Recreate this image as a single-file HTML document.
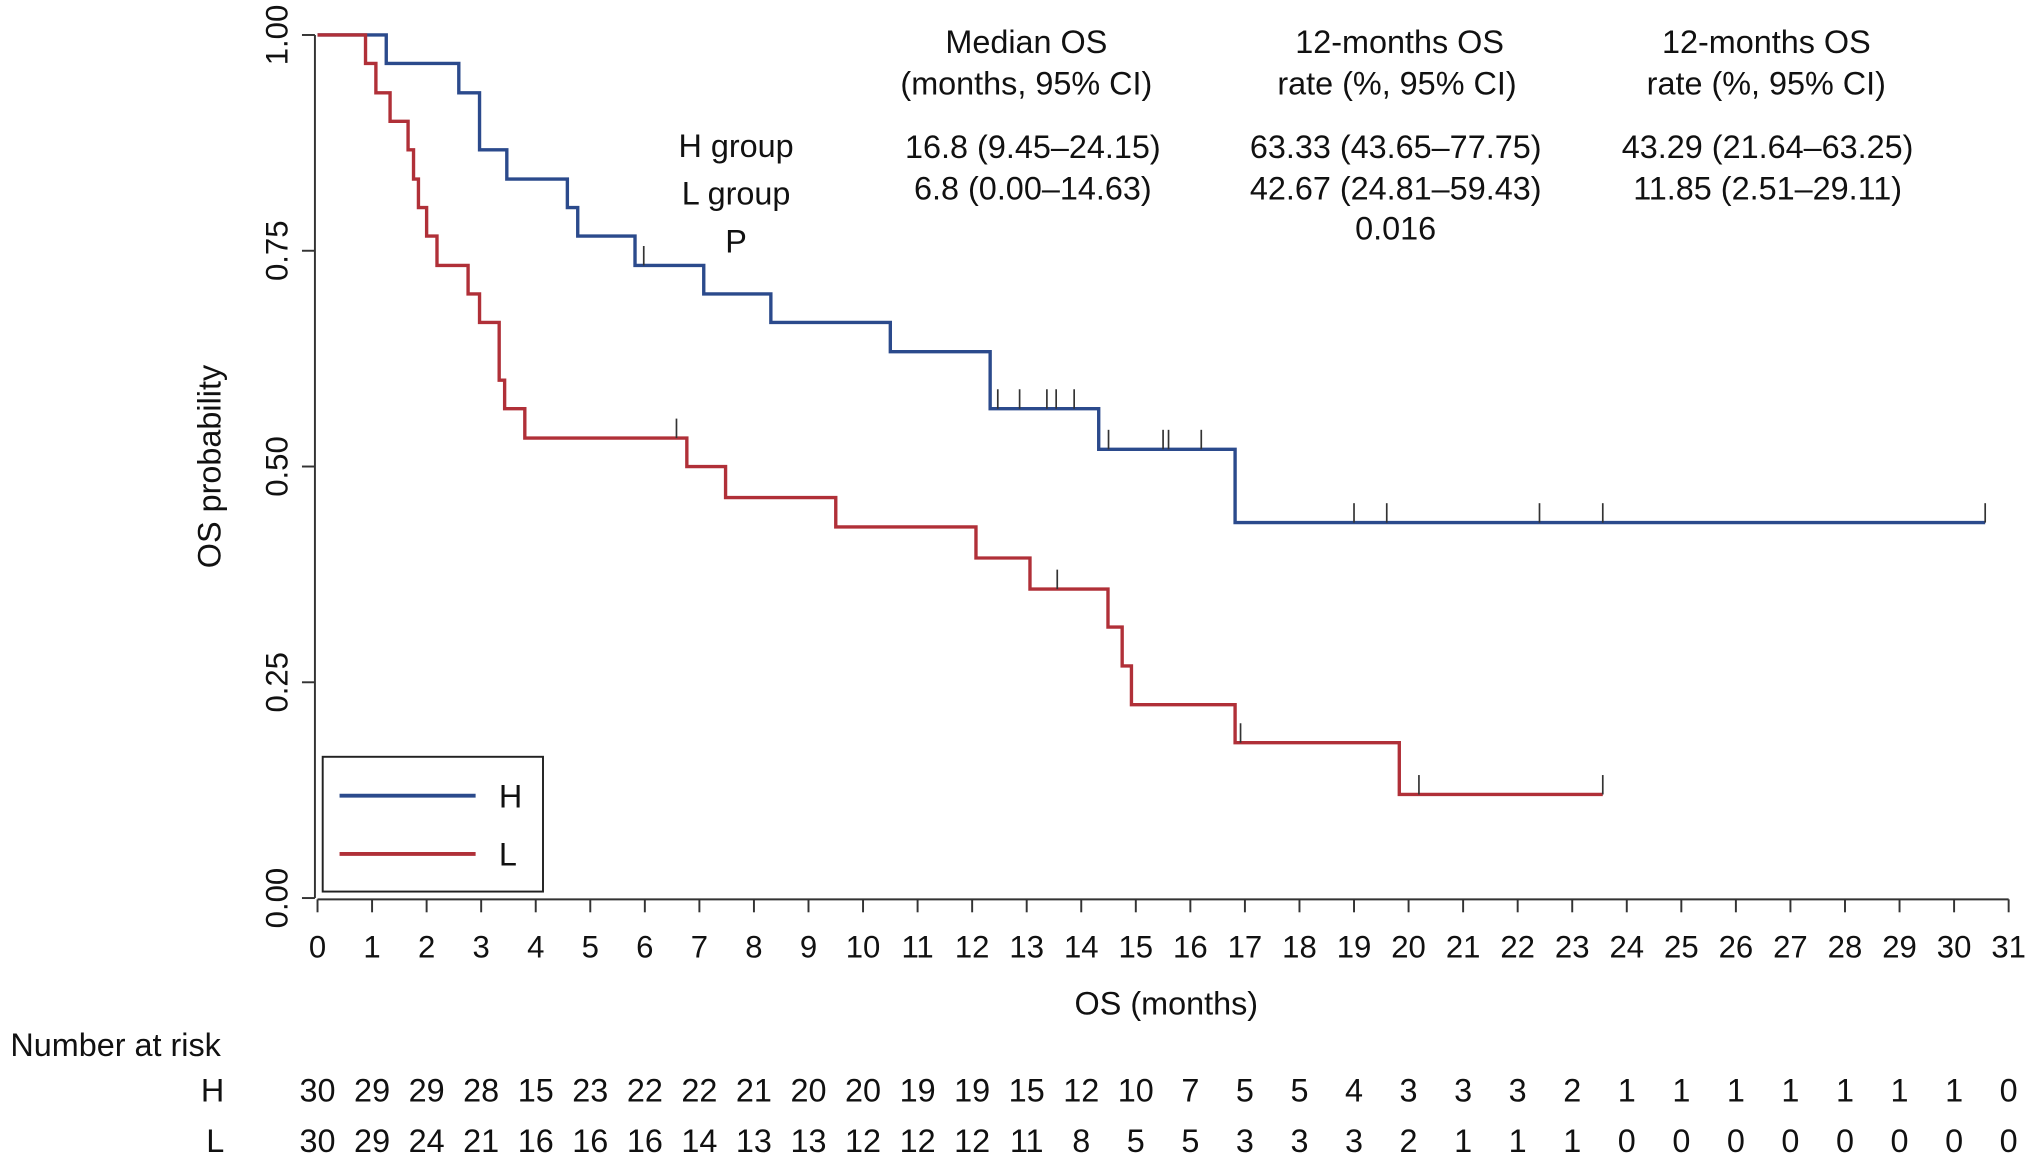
<!DOCTYPE html>
<html><head><meta charset="utf-8"><style>
html,body{margin:0;padding:0;background:#fff}
svg{display:block;font-family:"Liberation Sans",Arial,sans-serif}
</style></head><body>
<svg id="chart" width="2032" height="1165" viewBox="0 0 1568 899" xmlns="http://www.w3.org/2000/svg">
<g id="axes"></g><g id="curves"></g><g id="risk"></g>
<g font-size="25" fill="#111" text-anchor="middle">
 <text x="792" y="41">Median OS</text><text x="792" y="73">(months, 95% CI)</text>
 <text x="1080" y="41">12-months OS</text><text x="1078" y="73">rate (%, 95% CI)</text>
 <text x="1363" y="41">12-months OS</text><text x="1363" y="73">rate (%, 95% CI)</text>
 <text x="568" y="121">H group</text><text x="568" y="158">L group</text><text x="568" y="195">P</text>
 <text x="797" y="122">16.8 (9.45–24.15)</text><text x="797" y="154">6.8 (0.00–14.63)</text>
 <text x="1077" y="122">63.33 (43.65–77.75)</text><text x="1077" y="154">42.67 (24.81–59.43)</text>
 <text x="1077" y="185">0.016</text>
 <text x="1364" y="122">43.29 (21.64–63.25)</text><text x="1364" y="154">11.85 (2.51–29.11)</text>
</g>
<g>
 <rect x="249" y="584" width="170" height="104" fill="#fff" stroke="#222" stroke-width="1.5"/>
 <line x1="262" y1="614" x2="367" y2="614" stroke="#2b4a8c" stroke-width="3"/>
 <text x="385" y="623" font-size="25" fill="#111">H</text>
 <line x1="262" y1="659" x2="367" y2="659" stroke="#b03038" stroke-width="3"/>
 <text x="385" y="668" font-size="25" fill="#111">L</text>
</g>
</svg>
<script>
const hTimes=[0,1.26,2.59,2.97,3.47,4.58,4.77,5.82,7.08,8.31,10.5,12.33,14.32,16.82,30.57];
const hSurv=[1,0.967,0.933,0.867,0.833,0.80,0.767,0.733,0.70,0.667,0.633,0.567,0.52,0.435,0.435];
const hCensor=[5.98,12.47,12.87,13.37,13.54,13.87,14.5,15.5,15.6,16.2,19.0,19.6,22.4,23.56,30.57];
const lTimes=[0,0.88,1.07,1.33,1.66,1.76,1.85,2.0,2.19,2.76,2.97,3.33,3.43,3.8,6.77,7.48,9.5,12.07,13.06,14.49,14.75,14.92,16.82,19.83,23.56];
const lSurv=[1,0.967,0.933,0.90,0.867,0.833,0.80,0.767,0.733,0.70,0.667,0.60,0.567,0.533,0.50,0.464,0.43,0.394,0.358,0.314,0.269,0.224,0.18,0.12,0.12];
const lCensor=[6.58,13.56,16.92,20.19,23.56];
const xTicks=[...Array(32).keys()];
const yTicks=[0,0.25,0.5,0.75,1];
const yTickLabels=["0.00","0.25","0.50","0.75","1.00"];
const riskH=[30,29,29,28,15,23,22,22,21,20,20,19,19,15,12,10,7,5,5,4,3,3,3,2,1,1,1,1,1,1,1,0];
const riskL=[30,29,24,21,16,16,16,14,13,13,12,12,12,11,8,5,5,3,3,3,2,1,1,1,0,0,0,0,0,0,0,0];
const X=t=>245+t*(1550-245)/31;
const Y=v=>693-666*v;
const NS="http://www.w3.org/2000/svg";
function el(tag,attrs,parent,txt){const e=document.createElementNS(NS,tag);for(const k in attrs)e.setAttribute(k,attrs[k]);if(txt!==undefined)e.textContent=txt;parent.appendChild(e);return e;}
const axes=document.getElementById('axes');
let a=el('line',{x1:243,y1:Y(1),x2:243,y2:Y(0),stroke:'#333','stroke-width':1.5},axes);


yTicks.forEach((v,i)=>{
 el('line',{x1:233,y1:Y(v),x2:243,y2:Y(v),stroke:'#333','stroke-width':1.5},axes);
 const t=el('text',{x:0,y:0,'font-size':24,fill:'#111','text-anchor':'middle',transform:`translate(222,${Y(v)}) rotate(-90)`},axes,yTickLabels[i]);
 
 
});
a=el('line',{x1:X(0),y1:694,x2:X(31),y2:694,stroke:'#333','stroke-width':1.5},axes);


xTicks.forEach(t=>{
 el('line',{x1:X(t),y1:694,x2:X(t),y2:704,stroke:'#333','stroke-width':1.5},axes);
 const tx=el('text',{x:X(t),y:739,'font-size':24,fill:'#111','text-anchor':'middle'},axes,String(t));
 
 
});
let tt=el('text',{x:0,y:0,'font-size':25,fill:'#111','text-anchor':'middle',transform:'translate(170,360) rotate(-90)'},axes,'OS probability');


tt=el('text',{x:900,y:783,'font-size':25,fill:'#111','text-anchor':'middle'},axes,'OS (months)');


function stepAt(times,surv,t){let v=surv[0];for(let i=0;i<times.length;i++){if(times[i]<=t)v=surv[i];}return v;}
const curves=document.getElementById('curves');
function drawCurve(times,surv,censor,color,name){
 let d=`M${X(times[0])},${Y(surv[0])}`;
 for(let i=1;i<times.length;i++){d+=` H${X(times[i])} V${Y(surv[i])}`;}
 const p=el('path',{d:d,fill:'none',stroke:color,'stroke-width':2.6},curves);
 
 
 censor.forEach(c=>{
  const v=stepAt(times,surv,c);
  const m=el('line',{x1:X(c),y1:Y(v),x2:X(c),y2:Y(v)-15,stroke:'#333','stroke-width':1.3},curves);
  
  
 });
}
drawCurve(hTimes,hSurv,hCensor,'#2b4a8c','h-group');
drawCurve(lTimes,lSurv,lCensor,'#b03038','l-group');
const risk=document.getElementById('risk');
let r=el('text',{x:8,y:815,'font-size':25,fill:'#111'},risk,'Number at risk');


[['H',riskH,850],['L',riskL,889]].forEach(([lab,arr,y])=>{
 const l=el('text',{x:173,y:y,'font-size':25,fill:'#111','text-anchor':'end'},risk,lab);
 
 
 arr.forEach((n,i)=>{
  const c=el('text',{x:X(xTicks[i]),y:y,'font-size':25,fill:'#111','text-anchor':'middle'},risk,String(n));
  
  
 });
});
</script>
</body></html>
